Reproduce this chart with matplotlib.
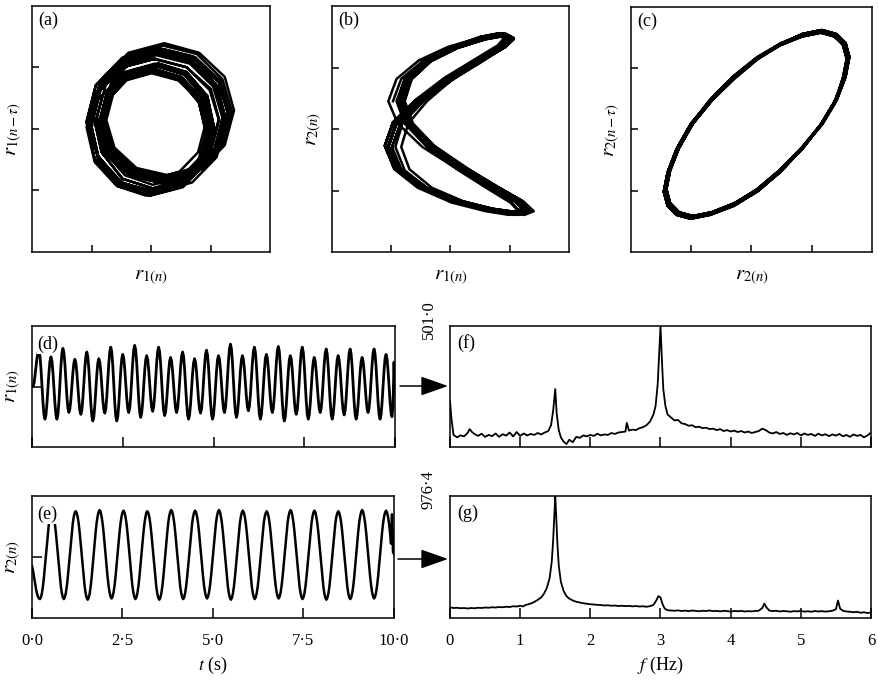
import numpy as np
import matplotlib.pyplot as plt
from matplotlib.patches import FancyArrowPatch

plt.rcParams['font.family'] = 'serif'
plt.rcParams['font.serif'] = ['Liberation Serif', 'DejaVu Serif']
plt.rcParams['mathtext.fontset'] = 'stix'

# --- signals (d) and (e), 365 samples over 10 s ---
r1_signal = [
    0.00, 0.00, 0.05, 0.18, 0.33, 0.47, 0.55,
    0.57, 0.50, 0.29, 0.02, -0.26, -0.47, -0.54, -0.47, -0.28, -0.03, 0.23, 0.42,
    0.49, 0.42, 0.23, -0.03, -0.28, -0.47, -0.54, -0.46, -0.25, 0.05, 0.34, 0.55,
    0.63, 0.56, 0.37, 0.10, -0.17, -0.36, -0.43, -0.37, -0.21, 0.01, 0.23, 0.39,
    0.45, 0.39, 0.22, -0.01, -0.23, -0.40, -0.46, -0.39, -0.20, 0.06, 0.31, 0.50,
    0.57, 0.49, 0.29, 0.00, -0.29, -0.49, -0.57, -0.50, -0.31, -0.06, 0.20, 0.39,
    0.46, 0.40, 0.24, 0.01, -0.22, -0.38, -0.44, -0.37, -0.17, 0.11, 0.38, 0.58,
    0.65, 0.57, 0.35, 0.04, -0.27, -0.49, -0.57, -0.50, -0.30, -0.02, 0.26, 0.46,
    0.53, 0.47, 0.29, 0.05, -0.19, -0.37, -0.43, -0.36, -0.15, 0.13, 0.40, 0.61,
    0.68, 0.60, 0.38, 0.09, -0.21, -0.43, -0.51, -0.44, -0.26, 0.00, 0.26, 0.44,
    0.51, 0.45, 0.28, 0.05, -0.18, -0.35, -0.41, -0.34, -0.15, 0.12, 0.39, 0.58,
    0.65, 0.57, 0.37, 0.09, -0.20, -0.40, -0.48, -0.42, -0.24, 0.00, 0.24, 0.42,
    0.48, 0.42, 0.25, 0.03, -0.20, -0.37, -0.43, -0.36, -0.18, 0.07, 0.32, 0.50,
    0.57, 0.50, 0.29, 0.02, -0.26, -0.47, -0.54, -0.47, -0.29, -0.04, 0.21, 0.39,
    0.46, 0.40, 0.24, 0.01, -0.22, -0.38, -0.44, -0.37, -0.18, 0.08, 0.34, 0.53,
    0.60, 0.52, 0.32, 0.03, -0.26, -0.46, -0.54, -0.47, -0.28, -0.02, 0.25, 0.44,
    0.51, 0.45, 0.28, 0.04, -0.19, -0.37, -0.43, -0.35, -0.15, 0.14, 0.42, 0.62,
    0.70, 0.62, 0.40, 0.10, -0.21, -0.43, -0.51, -0.44, -0.26, 0.00, 0.26, 0.44,
    0.51, 0.45, 0.28, 0.06, -0.17, -0.34, -0.40, -0.33, -0.14, 0.13, 0.39, 0.58,
    0.65, 0.57, 0.35, 0.06, -0.24, -0.46, -0.54, -0.47, -0.27, -0.01, 0.26, 0.46,
    0.53, 0.47, 0.29, 0.05, -0.19, -0.37, -0.43, -0.36, -0.16, 0.12, 0.39, 0.59,
    0.66, 0.58, 0.35, 0.05, -0.26, -0.49, -0.57, -0.50, -0.30, -0.03, 0.24, 0.44,
    0.51, 0.45, 0.27, 0.03, -0.22, -0.40, -0.46, -0.39, -0.18, 0.10, 0.37, 0.58,
    0.65, 0.57, 0.35, 0.06, -0.24, -0.46, -0.54, -0.47, -0.29, -0.03, 0.23, 0.41,
    0.48, 0.42, 0.25, 0.03, -0.20, -0.37, -0.43, -0.36, -0.17, 0.10, 0.36, 0.55,
    0.62, 0.54, 0.33, 0.04, -0.25, -0.46, -0.54, -0.47, -0.28, -0.02, 0.25, 0.44,
    0.51, 0.44, 0.27, 0.02, -0.23, -0.40, -0.47, -0.40, -0.20, 0.08, 0.35, 0.55,
    0.62, 0.54, 0.33, 0.04, -0.25, -0.46, -0.54, -0.47, -0.29, -0.03, 0.23, 0.41,
    0.48, 0.42, 0.25, 0.03, -0.20, -0.37, -0.43, -0.36, -0.17, 0.10, 0.36, 0.55,
    0.62, 0.54, 0.33, 0.04, -0.25, -0.46, -0.54, -0.47, -0.27, -0.01, 0.26, 0.46,
    0.53, 0.46, 0.27, 0.02, -0.24, -0.43, -0.50, -0.30, 0.40, -0.10,
]

r2_signal = [
    -0.15, -0.22, -0.32, -0.42, -0.52, -0.60, -0.65, -0.68, -0.69, -0.66,
    -0.59, -0.48, -0.33, -0.15, 0.04, 0.22, 0.40, 0.55, 0.66, 0.73,
    0.76, 0.73, 0.66, 0.55, 0.40, 0.22, 0.04, -0.15, -0.33, -0.48, -0.59, -0.66, -0.69, -0.66, -0.59, -0.48, -0.33, -0.15, 0.04, 0.22, 0.40, 0.55, 0.66, 0.73,
    0.75, 0.72, 0.65, 0.54, 0.39, 0.21, 0.03, -0.16, -0.34, -0.49, -0.60, -0.67, -0.70, -0.67, -0.60, -0.48, -0.33, -0.14, 0.05, 0.23, 0.41, 0.56, 0.67, 0.74,
    0.77, 0.74, 0.66, 0.55, 0.40, 0.22, 0.04, -0.15, -0.33, -0.47, -0.58, -0.65, -0.68, -0.65, -0.58, -0.47, -0.32, -0.14, 0.04, 0.22, 0.40, 0.55, 0.66, 0.73,
    0.76, 0.73, 0.66, 0.55, 0.40, 0.23, 0.05, -0.14, -0.32, -0.48, -0.59, -0.66, -0.69, -0.66, -0.59, -0.48, -0.33, -0.15, 0.03, 0.21, 0.39, 0.54, 0.65, 0.73,
    0.75, 0.72, 0.65, 0.54, 0.39, 0.21, 0.03, -0.16, -0.34, -0.49, -0.60, -0.67, -0.70, -0.67, -0.60, -0.49, -0.34, -0.15, 0.04, 0.22, 0.40, 0.56, 0.67, 0.74,
    0.77, 0.74, 0.67, 0.56, 0.41, 0.23, 0.04, -0.15, -0.33, -0.48, -0.59, -0.66, -0.69, -0.66, -0.59, -0.48, -0.33, -0.15, 0.04, 0.22, 0.40, 0.55, 0.66, 0.73,
    0.76, 0.73, 0.66, 0.55, 0.40, 0.22, 0.04, -0.15, -0.32, -0.47, -0.58, -0.65, -0.68, -0.65, -0.58, -0.47, -0.32, -0.14, 0.05, 0.23, 0.41, 0.56, 0.67, 0.74,
    0.77, 0.74, 0.66, 0.55, 0.40, 0.22, 0.03, -0.16, -0.34, -0.49, -0.60, -0.67, -0.70, -0.67, -0.60, -0.49, -0.34, -0.16, 0.03, 0.21, 0.39, 0.55, 0.66, 0.73,
    0.76, 0.73, 0.66, 0.55, 0.40, 0.22, 0.04, -0.15, -0.33, -0.48, -0.59, -0.66, -0.69, -0.66, -0.59, -0.48, -0.33, -0.15, 0.04, 0.22, 0.40, 0.55, 0.66, 0.72,
    0.75, 0.72, 0.65, 0.54, 0.39, 0.22, 0.04, -0.14, -0.32, -0.47, -0.58, -0.65, -0.68, -0.65, -0.58, -0.47, -0.32, -0.14, 0.05, 0.23, 0.41, 0.56, 0.67, 0.74,
    0.77, 0.74, 0.66, 0.55, 0.40, 0.22, 0.04, -0.15, -0.33, -0.48, -0.59, -0.66, -0.69, -0.66, -0.59, -0.48, -0.33, -0.15, 0.04, 0.22, 0.40, 0.55, 0.66, 0.73,
    0.76, 0.73, 0.65, 0.54, 0.39, 0.21, 0.03, -0.16, -0.34, -0.49, -0.60, -0.67, -0.70, -0.67, -0.60, -0.49, -0.33, -0.15, 0.04, 0.22, 0.40, 0.55, 0.66, 0.72,
    0.75, 0.72, 0.65, 0.55, 0.40, 0.22, 0.04, -0.15, -0.33, -0.48, -0.59, -0.66, -0.69, -0.66, -0.59, -0.48, -0.33, -0.14, 0.05, 0.23, 0.41, 0.56, 0.67, 0.74,
    0.77, 0.74, 0.66, 0.55, 0.40, 0.22, 0.04, -0.15, -0.32, -0.47, -0.58, -0.65, -0.68, -0.65, -0.58, -0.47, -0.32, -0.14, 0.04, 0.22, 0.40, 0.55, 0.66, 0.73,
    0.76, 0.73, 0.66, 0.55, 0.40, 0.22, 0.70, 0.08, 0.05,
]

record_length = 10.0   # s
delay_r1 = 3           # samples used for r1(n - tau)
delay_r2 = 3           # samples used for r2(n - tau)

# --- spectra (f) and (g) ---
freq_f = [0.00, 0.02, 0.05,
          0.10, 0.15, 0.20, 0.25, 0.28, 0.32, 0.36,
          0.40, 0.45, 0.50, 0.55, 0.60, 0.65, 0.70, 0.75, 0.80, 0.85, 0.90,
          0.95, 1.00, 1.05, 1.10, 1.15, 1.20, 1.25, 1.30, 1.35, 1.40,
          1.44, 1.47, 1.50, 1.52, 1.55, 1.58, 1.62, 1.66,
          1.70, 1.75, 1.80, 1.85, 1.90, 1.95, 2.00, 2.05, 2.10, 2.15, 2.20,
          2.25, 2.30, 2.35, 2.40, 2.45, 2.50,
          2.52,
          2.55, 2.60, 2.65, 2.70, 2.75, 2.80, 2.85, 2.90,
          2.93, 2.96, 2.98, 3.00, 3.02, 3.04, 3.07,
          3.10, 3.15, 3.20, 3.25, 3.30, 3.35, 3.40, 3.45, 3.50, 3.55,
          3.60, 3.65, 3.70, 3.75, 3.80, 3.85, 3.90, 3.95, 4.00, 4.05,
          4.10, 4.15, 4.20, 4.25, 4.30, 4.35, 4.40, 4.45, 4.50, 4.55,
          4.60, 4.65, 4.70, 4.75, 4.80, 4.85, 4.90, 4.95, 5.00, 5.05,
          5.10, 5.15, 5.20, 5.25, 5.30, 5.35, 5.40, 5.45, 5.50, 5.55,
          5.60, 5.65, 5.70, 5.75, 5.80, 5.85, 5.90, 5.95, 6.00]
power_f = [190, 120, 50,
           40, 48, 44, 58, 74, 60, 52,
           46, 55, 42, 50, 45, 56, 42, 53, 47, 60, 44,
           62, 46, 56, 48, 54, 50, 58, 52, 60, 66,
           90, 150, 240, 140, 70, 40, 22, 12,
           30, 20, 42, 38, 48, 44, 50, 46, 55, 48, 52,
           50, 58, 54, 60, 62, 64,
           100,
           68, 72, 70, 78, 82, 90, 105, 135,
           170, 260, 380, 501, 360, 240, 170,
           135, 122, 110, 112, 98, 95, 88, 90, 82, 84,
           78, 80, 74, 76, 70, 74, 66, 70, 64, 68,
           62, 66, 60, 64, 58, 62, 66, 76, 70, 60,
           56, 62, 54, 58, 50, 57, 52, 58, 48, 56,
           50, 54, 46, 55, 48, 53, 45, 52, 47, 54,
           44, 50, 42, 52, 46, 50, 40, 48, 60]

freq_g = [0.00, 0.05, 0.10, 0.15, 0.20, 0.25, 0.30, 0.35, 0.40, 0.45, 0.50,
          0.55, 0.60, 0.65, 0.70, 0.75, 0.80, 0.85, 0.90, 0.95, 1.00,
          1.04, 1.08, 1.12, 1.16, 1.20, 1.25, 1.30, 1.34, 1.38, 1.42,
          1.45, 1.47, 1.49, 1.50, 1.51, 1.53, 1.55, 1.58, 1.62, 1.66,
          1.70, 1.75, 1.80, 1.85, 1.90, 1.95, 2.00, 2.05, 2.10, 2.15, 2.20, 2.25,
          2.30, 2.35, 2.40, 2.45, 2.50, 2.55, 2.60, 2.65, 2.70, 2.75, 2.80, 2.85,
          2.90, 2.94, 2.97, 3.00, 3.03, 3.06,
          3.10, 3.15, 3.20, 3.25, 3.30, 3.35, 3.40, 3.45, 3.50, 3.55,
          3.60, 3.65, 3.70, 3.75, 3.80, 3.85, 3.90, 3.95, 4.00, 4.05,
          4.10, 4.15, 4.20, 4.25, 4.30, 4.35, 4.40,
          4.45, 4.48, 4.51,
          4.55, 4.60, 4.65, 4.70, 4.75, 4.80, 4.85, 4.90, 4.95, 5.00,
          5.05, 5.10, 5.15, 5.20, 5.25, 5.30, 5.35, 5.40, 5.45,
          5.50, 5.53, 5.56,
          5.60, 5.65, 5.70, 5.75, 5.80, 5.85, 5.90, 5.95, 6.00]
power_g = [85, 80, 82, 78, 80, 76, 80, 78, 82, 80, 84,
           82, 86, 84, 88, 86, 90, 88, 94, 92, 98,
           92, 105, 110, 118, 128, 145, 165, 195, 240, 320,
           450, 620, 850, 976, 860, 600, 420, 290, 215, 175,
           155, 140, 130, 124, 118, 114, 110, 108, 105, 104, 100, 102,
           98, 100, 96, 98, 95, 97, 93, 96, 92, 94, 90, 95,
           105, 140, 175, 165, 110, 75,
           62, 60, 58, 61, 56, 59, 55, 60, 57, 54,
           58, 56, 60, 55, 57, 53, 58, 55, 52, 56,
           54, 57, 52, 55, 53, 56, 58,
           80, 115, 85,
           60, 55, 58, 52, 56, 54, 50, 55, 53, 57,
           51, 54, 50, 56, 52, 55, 51, 54, 58,
           70, 140, 75,
           58, 52, 50, 46, 50, 42, 46, 40, 44]

peak_f = 501.0
peak_g = 976.4
time_ticks = [0, 2.5, 5, 7.5, 10]
time_labels = ['0·0', '2·5', '5·0', '7·5', '10·0']
freq_ticks = [0, 1, 2, 3, 4, 5, 6]

r1 = np.array(r1_signal)
r2 = np.array(r2_signal)
t1 = np.linspace(0, record_length, len(r1))
t2 = np.linspace(0, record_length, len(r2))

W, H = 879, 681
fig = plt.figure(figsize=(W / 100, H / 100), dpi=100)


def axes_px(x0, y0, x1, y1):
    return fig.add_axes([x0 / W, 1 - y1 / H, (x1 - x0) / W, (y1 - y0) / H])


def frame(ax, tick_len=5):
    for s in ax.spines.values():
        s.set_linewidth(1.1)
    ax.tick_params(direction='in', length=tick_len, width=1.1,
                   top=False, right=False, labelsize=12, pad=11)


def quarter_ticks(lo, hi):
    return [lo + (hi - lo) * q for q in (0.25, 0.5, 0.75)]


lim_r1 = (-1.04, 1.01)
lim_r2 = (-1.0, 0.99)
lim_r2c = (-0.96, 0.95)

# phase portraits
start, stop = 7, len(r1) - 3
portraits = [
    ((32, 6, 270, 252), r1[start + delay_r1:stop], r1[start:stop - delay_r1],
     lim_r1, lim_r1, '(a)', r'$r_{1(n)}$', r'$r_{1(n-\tau)}$'),
    ((332, 6, 569, 252), r1[start:stop], r2[start:stop],
     (-1.02, 1.0), lim_r2, '(b)', r'$r_{1(n)}$', r'$r_{2(n)}$'),
    ((631, 7, 872, 252), r2[8 + delay_r2:stop], r2[8:stop - delay_r2],
     lim_r2c, lim_r2c, '(c)', r'$r_{2(n)}$', r'$r_{2(n-\tau)}$'),
]
for box, xs, ys, xl, yl, tag, xlab, ylab in portraits:
    ax = axes_px(*box)
    ax.plot(xs, ys, color='black', lw=1.8, solid_joinstyle='round')
    ax.set_xlim(*xl)
    ax.set_ylim(*yl)
    ax.set_xticks(quarter_ticks(*xl))
    ax.set_yticks(quarter_ticks(*yl))
    ax.set_xticklabels([])
    ax.set_yticklabels([])
    frame(ax, 5)
    ax.text(0.025, 0.975, tag, transform=ax.transAxes, ha='left', va='top', fontsize=13)
    ax.text(0.5, -0.105, xlab, transform=ax.transAxes, ha='center', va='center', fontsize=15)
    ax.text(-0.075, 0.5, ylab, transform=ax.transAxes, ha='center', va='center',
            rotation=90, fontsize=15)

# time series
series = [((32, 326, 395, 447), t1, r1, 2.0, '(d)', r'$r_{1(n)}$', False),
          ((32, 496, 394, 618), t2, r2, 1.8, '(e)', r'$r_{2(n)}$', True)]
for box, tt, yy, lw, tag, ylab, labelled in series:
    ax = axes_px(*box)
    ax.plot(tt, yy, color='black', lw=lw)
    ax.set_xlim(0, record_length)
    ax.set_ylim(-1, 1)
    ax.set_xticks(time_ticks)
    ax.set_yticks([0])
    ax.set_yticklabels([])
    frame(ax, 7)
    if labelled:
        ax.set_xticklabels(time_labels)
        ax.set_xlabel(r'$t$ (s)', fontsize=13, labelpad=4)
    else:
        ax.set_xticklabels([])
    ax.text(0.015, 0.92, tag, transform=ax.transAxes, ha='left', va='top', fontsize=13,
            bbox=dict(facecolor='white', edgecolor='none', pad=0.5))
    ax.text(-0.052, 0.5, ylab, transform=ax.transAxes, ha='center', va='center',
            rotation=90, fontsize=15)

# spectra
spectra = [((450, 326, 871, 447), freq_f, power_f, peak_f, '(f)', '501·0', False),
           ((450, 496, 871, 618), freq_g, power_g, peak_g, '(g)', '976·4', True)]
for box, ff, pp, top, tag, toplab, labelled in spectra:
    ax = axes_px(*box)
    ax.plot(ff, pp, color='black', lw=1.3)
    ax.set_xlim(0, 6)
    ax.set_ylim(0, top)
    ax.set_xticks(freq_ticks)
    ax.set_yticks([])
    frame(ax, 7)
    if labelled:
        ax.set_xticklabels([str(v) for v in freq_ticks])
        ax.set_xlabel(r'$f$ (Hz)', fontsize=13, labelpad=4)
    else:
        ax.set_xticklabels([])
    ax.text(0.018, 0.93, tag, transform=ax.transAxes, ha='left', va='top', fontsize=13)
    fig.text(429 / W, 1 - (box[1] - 6) / H, toplab, rotation=90, ha='center',
             va='center', fontsize=12)

# arrows from the time series to their spectra
for y_px, x_start in ((386, 400), (559, 398)):
    arr = FancyArrowPatch((x_start / W, 1 - y_px / H), (448 / W, 1 - y_px / H),
                          transform=fig.transFigure,
                          arrowstyle='-|>,head_length=0.85,head_width=0.3',
                          mutation_scale=20, color='black', lw=1.1,
                          shrinkA=0, shrinkB=0)
    fig.add_artist(arr)

fig.savefig('out.png', dpi=100)
